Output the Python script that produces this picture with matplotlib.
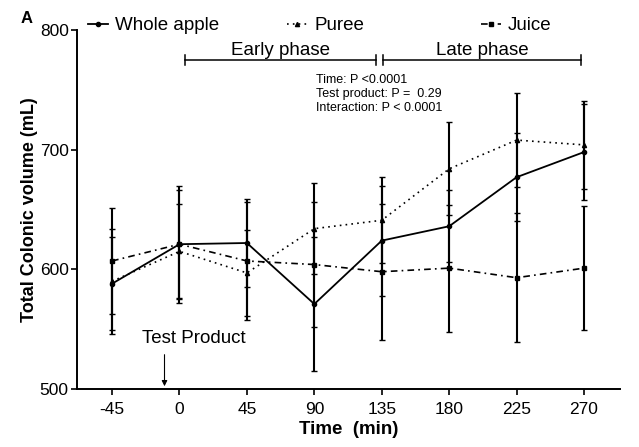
import matplotlib
matplotlib.use("Agg")
import matplotlib.pyplot as plt
from matplotlib.lines import Line2D

plt.rcParams['font.family'] = ['Liberation Sans', 'DejaVu Sans']

time_min = [-45, 0, 45, 90, 135, 180, 225, 270]
xtick_labels = ["-45", "0", "45", "90", "135", "180", "225", "270"]

whole_apple = [588, 621, 622, 571, 624, 636, 677, 698]
whole_apple_sd = [39, 45, 37, 56, 46, 30, 37, 40]
puree = [590, 615, 597, 634, 641, 684, 708, 704]
puree_sd = [44, 40, 36, 38, 36, 39, 39, 37]
juice = [607, 621, 607, 604, 598, 601, 593, 601]
juice_sd = [44, 49, 49, 52, 57, 53, 54, 52]

series_names = ['Whole apple', 'Puree', 'Juice']

fig = plt.figure(figsize=(6.39, 4.47), dpi=100)
ax = fig.add_axes([77/639, 1-389/447, (620-77)/639, (389-30)/447])

styles = [
    dict(linestyle='-', linewidth=1.3, marker='o', markersize=3),
    dict(linestyle=(0, (1, 2.5)), linewidth=1.2, marker='^', markersize=3),
    dict(linestyle=(0, (4, 2.5, 1, 2.5)), linewidth=1.2, marker='s', markersize=3.5),
]
common = dict(color='black', ecolor='black', elinewidth=1.5, capsize=2.0, capthick=1.0)
for vals, sd, st in zip([whole_apple, puree, juice], [whole_apple_sd, puree_sd, juice_sd], styles):
    ax.errorbar(time_min, vals, yerr=sd, **st, **common)

ax.set_xlim(-68.4, 294)
ax.set_ylim(500, 800)
ax.set_xticks(time_min)
ax.set_xticklabels(xtick_labels)
ax.set_yticks([500, 600, 700, 800])
ax.tick_params(axis='both', labelsize=12.5, width=1.2, length=4, color='black')
ax.tick_params(axis='x', pad=5)
ax.tick_params(axis='y', pad=2)
for s in ['top', 'right']:
    ax.spines[s].set_visible(False)
for s in ['left', 'bottom']:
    ax.spines[s].set_linewidth(1.4)

ax.set_xlabel('Time  (min)', fontsize=13.5, fontweight='bold', labelpad=3)
ax.set_ylabel('Total Colonic volume (mL)', fontsize=13, fontweight='bold', labelpad=1)

# legend entries (three separate legends for exact spacing)
leg_x = [88/639, 287/639, 481/639]
for name, st, lx in zip(series_names, styles, leg_x):
    h = Line2D([], [], color='black', **st)
    fig.legend([h], [name], loc='center left', bbox_to_anchor=(lx, 1-25.5/447),
               frameon=False, fontsize=13.5, handlelength=1.05, handletextpad=0.4,
               borderaxespad=0, borderpad=0)

# Phase brackets
phase_y = 775
for (x0, x1, lab) in [(3.7, 131.2, 'Early phase'), (135.9, 268.0, 'Late phase')]:
    ax.plot([x0, x1], [phase_y, phase_y], color='black', lw=1.1, clip_on=False)
    ax.plot([x0, x0], [phase_y - 4, phase_y + 4], color='black', lw=1.1, clip_on=False)
    ax.plot([x1, x1], [phase_y - 4, phase_y + 4], color='black', lw=1.1, clip_on=False)
    ax.text((x0 + x1) / 2, phase_y + 0.5, lab, ha='center', va='bottom', fontsize=13.5)

ax.text(91.2, 763.5, 'Time: P <0.0001\nTest product: P =  0.29\nInteraction: P < 0.0001',
        ha='left', va='top', fontsize=9, linespacing=1.25)

ax.annotate('', xy=(-10, 500), xytext=(-10, 531),
            arrowprops=dict(arrowstyle='-|>', color='black', lw=0.8, mutation_scale=8))
ax.text(9.7, 542, 'Test Product', ha='center', va='center', fontsize=13.5)

fig.text(21/639, 1-18.5/447, 'A', fontsize=12, fontweight='bold', ha='left', va='center')

fig.savefig('out.png', dpi=100)
